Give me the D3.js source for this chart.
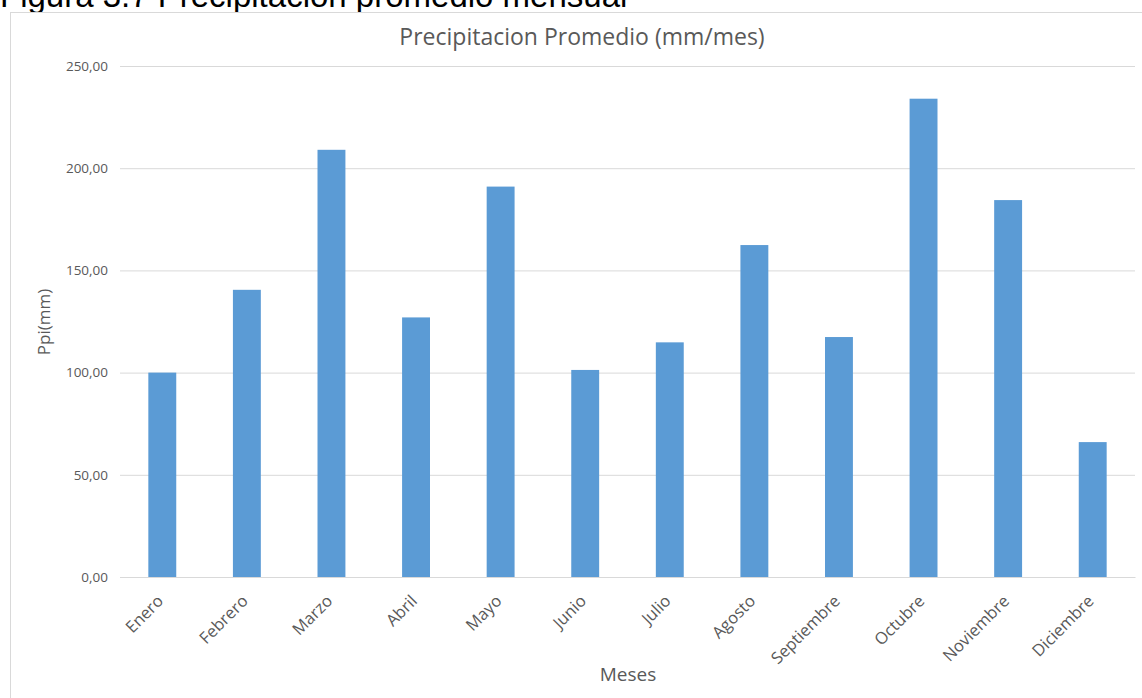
<!DOCTYPE html>
<html>
<head>
<meta charset="utf-8">
<script src="https://cdn.jsdelivr.net/npm/d3@7"></script>
<style>
  body { margin: 0; background: #fff; }
  svg { display: block; }
</style>
</head>
<body>
<div id="chart"></div>
<script>
var meses = ["Enero", "Febrero", "Marzo", "Abril", "Mayo", "Junio", "Julio",
             "Agosto", "Septiembre", "Octubre", "Noviembre", "Diciembre"];
var ppi = [100.0, 140.5, 209.0, 127.0, 191.0, 101.3, 114.8, 162.4, 117.4, 234.0, 184.4, 66.0];
var yTicks = [0, 50, 100, 150, 200, 250];

var outerWidth = 1142,
    outerHeight = 698,
    margin = { top: 66, right: 7, bottom: 121, left: 120 },
    width = outerWidth - margin.left - margin.right,
    height = outerHeight - margin.top - margin.bottom;

var x = d3.scaleBand()
    .domain(meses)
    .range([0, width])
    .paddingInner(0.67)
    .paddingOuter(0.335);

var y = d3.scaleLinear()
    .domain([0, 250])
    .range([height, 0]);

var fmt = function(d) { return d3.format(".2f")(d).replace(".", ","); };

var svg = d3.select("#chart").append("svg")
    .attr("width", outerWidth)
    .attr("height", outerHeight);

// caption above the chart (cut off at top, like the source page)
svg.append("text")
    .attr("x", 0)
    .attr("y", 7)
    .style("font-family", "Liberation Sans, Arial, sans-serif")
    .style("font-size", "33px")
    .style("fill", "#000")
    .text("Figura 3.7 Precipitación promedio mensual");

// chart frame
svg.append("rect")
    .attr("x", 10.5)
    .attr("y", 12.5)
    .attr("width", 1140)
    .attr("height", 700)
    .style("fill", "#fff")
    .style("stroke", "#d9d9d9");

svg.append("text")
    .attr("x", 582)
    .attr("y", 45)
    .style("text-anchor", "middle")
    .style("font-family", "Open Sans, sans-serif")
    .style("font-size", "23px")
    .style("fill", "#595959")
    .text("Precipitacion Promedio (mm/mes)");

var g = svg.append("g")
    .attr("transform", "translate(" + margin.left + "," + margin.top + ")");

var yAxis = d3.axisLeft(y)
    .tickValues(yTicks)
    .tickSize(-width)
    .tickPadding(12)
    .tickFormat(fmt);

g.append("g")
    .classed("y axis", true)
    .call(yAxis)
    .call(function(a) {
        a.select(".domain").remove();
        a.selectAll("line").style("stroke", "#d9d9d9");
        a.selectAll("text")
            .style("font-family", "Open Sans, sans-serif")
            .style("font-size", "13.5px")
            .style("fill", "#595959");
    });

g.selectAll(".bar")
    .data(ppi)
    .enter().append("rect")
    .classed("bar", true)
    .attr("x", function(d, i) { return x(meses[i]); })
    .attr("y", function(d) { return y(d); })
    .attr("width", x.bandwidth())
    .attr("height", function(d) { return height - y(d); })
    .style("fill", "#5b9bd5");

var xAxis = d3.axisBottom(x)
    .tickSize(0)
    .tickPadding(0);

g.append("g")
    .classed("x axis", true)
    .attr("transform", "translate(0," + height + ")")
    .call(xAxis)
    .call(function(a) {
        a.select(".domain").style("stroke", "#d9d9d9");
        a.selectAll("text")
            .style("text-anchor", "end")
            .style("font-family", "Open Sans, sans-serif")
            .style("font-size", "16.5px")
            .style("fill", "#595959")
            .attr("y", 0)
            .attr("dy", "0.35em")
            .attr("transform", "translate(-2,21) rotate(-45)");
    });

svg.append("text")
    .attr("transform", "translate(50," + 322 + ") rotate(-90)")
    .style("text-anchor", "middle")
    .style("font-family", "Open Sans, sans-serif")
    .style("font-size", "17px")
    .style("fill", "#595959")
    .text("Ppi(mm)");

svg.append("text")
    .attr("x", 628)
    .attr("y", 681)
    .style("text-anchor", "middle")
    .style("font-family", "Open Sans, sans-serif")
    .style("font-size", "19px")
    .style("fill", "#595959")
    .text("Meses");
</script>
</body>
</html>
